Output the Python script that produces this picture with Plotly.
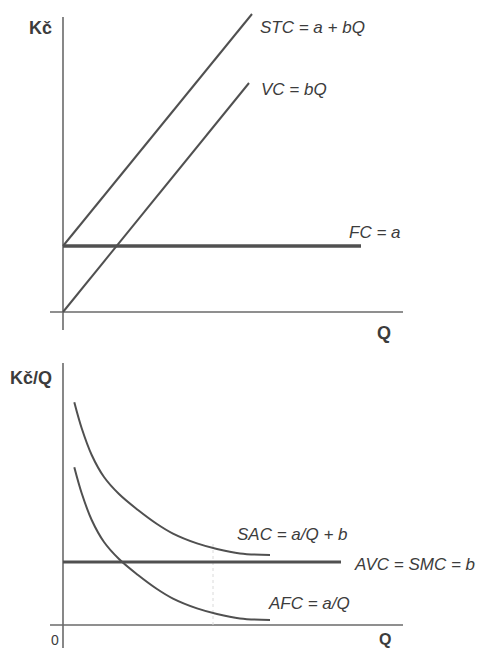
import plotly.graph_objects as go

# ---------------- data (top panel: total costs) ----------------
fc_value = 3.3            # FC = a
fc_q = [0, 14.9]
vc_q = [0, 9.3]
vc_values = [0, 11.45]    # VC = bQ
stc_q = [0, 9.45]
stc_values = [3.3, 14.9]  # STC = a + bQ

# ---------------- data (bottom panel: unit costs) ----------------
avc_value = 3.15          # AVC = SMC = b
avc_q = [0, 13.9]
afc_q = [0.565, 0.935, 1.435, 2.05, 2.8, 3.75, 4.7, 5.5, 6.7, 7.7, 8.85, 10.35]
afc_values = [7.885, 6.585, 5.25, 4.15, 3.3, 2.5, 1.8, 1.32, 0.83, 0.55, 0.33, 0.25]
sac_q = [0.565, 0.935, 1.435, 2.05, 2.8, 3.75, 4.7, 5.5, 6.7, 7.7, 8.85, 10.35]
sac_values = [11.135, 9.835, 8.5, 7.4, 6.55, 5.75, 5.05, 4.57, 4.08, 3.8, 3.58, 3.5]
guide_q = 7.5             # faint dotted guide line in the lower panel
guide_top = 4.2

# axis extents (data units)
top_axis_x = [-0.65, 17.0]
top_axis_y = [-0.9, 14.75]
bot_axis_x = [-0.65, 17.0]
bot_axis_y = [-1.3, 13.1]

LINE = "#505050"
AXIS = "#6a6a6a"
TXT = "#3c3c3c"
FONT = "Liberation Sans, Arial, sans-serif"

fig = go.Figure()

def add_line(x, y, w, xa, ya, color=LINE):
    fig.add_trace(go.Scatter(x=x, y=y, mode="lines", xaxis=xa, yaxis=ya,
                             line=dict(color=color, width=w, shape="spline", smoothing=1.0),
                             hoverinfo="skip", showlegend=False))

# top panel axes
add_line(top_axis_x, [0, 0], 1.6, "x", "y", AXIS)
add_line([0, 0], top_axis_y, 1.6, "x", "y", AXIS)
# top panel curves
add_line(fc_q, [fc_value, fc_value], 3.5, "x", "y")
add_line(vc_q, vc_values, 2, "x", "y")
add_line(stc_q, stc_values, 2, "x", "y")

# bottom panel axes
add_line(bot_axis_x, [0, 0], 1.6, "x2", "y2", AXIS)
add_line([0, 0], bot_axis_y, 1.6, "x2", "y2", AXIS)
# faint guide
fig.add_trace(go.Scatter(x=[guide_q, guide_q], y=[0, guide_top], mode="lines", xaxis="x2", yaxis="y2",
                         line=dict(color="#dadada", width=1, dash="dot"),
                         hoverinfo="skip", showlegend=False))
# bottom panel curves
add_line(avc_q, [avc_value, avc_value], 3, "x2", "y2")
add_line(sac_q, sac_values, 2, "x2", "y2")
add_line(afc_q, afc_values, 2, "x2", "y2")

def label(text, x, y, xa, ya, size=17, italic=True, bold=False, anchor="left"):
    t = text
    if bold:
        t = "<b>" + t + "</b>"
    if italic:
        t = "<i>" + t + "</i>"
    fig.add_annotation(x=x, y=y, xref=xa, yref=ya, text=t, showarrow=False,
                       xanchor=anchor, yanchor="middle",
                       font=dict(family=FONT, size=size, color=TXT))

# top labels
label("STC = a + bQ", 9.75, 14.25, "x", "y")
label("VC = bQ", 9.8, 11.15, "x", "y")
label("FC = a", 14.2, 4.0, "x", "y")
label("Kč", -1.8, 14.2, "x", "y", size=18, italic=False, bold=True)
label("Q", 16.05, -1.05, "x", "y", size=18, italic=False, bold=True, anchor="center")

# bottom labels
label("SAC = a/Q + b", 8.6, 4.55, "x2", "y2")
label("AVC = SMC = b", 14.45, 3.05, "x2", "y2")
label("AFC = a/Q", 10.15, 1.1, "x2", "y2")
label("Kč/Q", -2.75, 12.35, "x2", "y2", size=18, italic=False, bold=True)
label("0", -0.4, -0.75, "x2", "y2", size=14, italic=False, anchor="center")
label("Q", 16.1, -0.7, "x2", "y2", size=16, italic=False, bold=True, anchor="center")

top_dom = [1 - 340 / 648, 1]
bot_dom = [0, 1 - 340 / 648]
xr = [-63 / 20, (479 - 63) / 20]

ax_common = dict(visible=False, showgrid=False, zeroline=False, fixedrange=True)
fig.update_layout(
    width=479, height=648,
    margin=dict(l=0, r=0, t=0, b=0),
    paper_bgcolor="white", plot_bgcolor="white",
    showlegend=False,
    xaxis=dict(domain=[0, 1], range=xr, anchor="y", **ax_common),
    yaxis=dict(domain=top_dom, range=[(312 - 340) / 20, 312 / 20], anchor="x", **ax_common),
    xaxis2=dict(domain=[0, 1], range=xr, anchor="y2", **ax_common),
    yaxis2=dict(domain=bot_dom, range=[(625 - 648) / 20, (625 - 340) / 20], anchor="x2", **ax_common),
)

fig.write_html("out.html", config={"displayModeBar": False},
               post_script="document.body.style.margin='0px';document.body.style.overflow='hidden';")
